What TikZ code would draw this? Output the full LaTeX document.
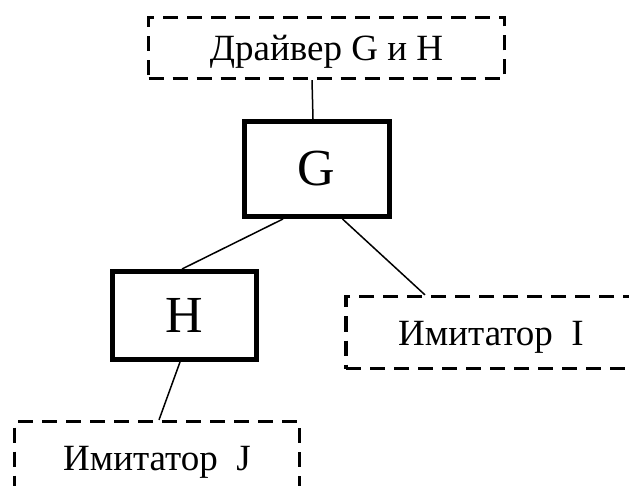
\documentclass[tikz,border=0pt]{standalone}
\usepackage{fontspec}
\setmainfont{Liberation Serif}
\tikzset{
  dashbox/.style={draw, line width=3.2pt, dash pattern=on 15pt off 9pt,
    inner sep=0pt, text height=25pt, text depth=0pt,
    font=\fontsize{37}{44}\selectfont},
  solidbox/.style={draw, line width=5pt, inner sep=0pt,
    font=\fontsize{52}{60}\selectfont},
  link/.style={line width=1.5pt}
}
\begin{document}
\begin{tikzpicture}[x=1pt, y=-1pt]
  \useasboundingbox (0,0) rectangle (629,486);
  \clip (0,0) rectangle (629,486);
  % boxes
  \node[dashbox, minimum width=356pt, minimum height=61pt] (drv) at (326.5,48) {Драйвер G и H};
  \node[solidbox, minimum width=145pt, minimum height=95pt] (G) at (316.5,169) {G};
  \node[solidbox, minimum width=144pt, minimum height=88pt] (H) at (184,315.5) {H};
  \node[dashbox, minimum width=290pt, minimum height=72pt] (I) at (491,332.5) {Имитатор\ \ I};
  \node[dashbox, minimum width=285pt, minimum height=72pt] (J) at (157,457.5) {Имитатор\ \ J};
  % connectors
  \draw[link] ([xshift=-14.5pt]drv.south) -- ([xshift=-3.5pt]G.north);
  \draw[link] ([xshift=-33.5pt]G.south) -- ([xshift=-2pt]H.north);
  \draw[link] ([xshift=26pt]G.south) -- ([xshift=-66pt]I.north);
  \draw[link] ([xshift=-4pt]H.south) -- ([xshift=2pt]J.north);
\end{tikzpicture}
\end{document}
